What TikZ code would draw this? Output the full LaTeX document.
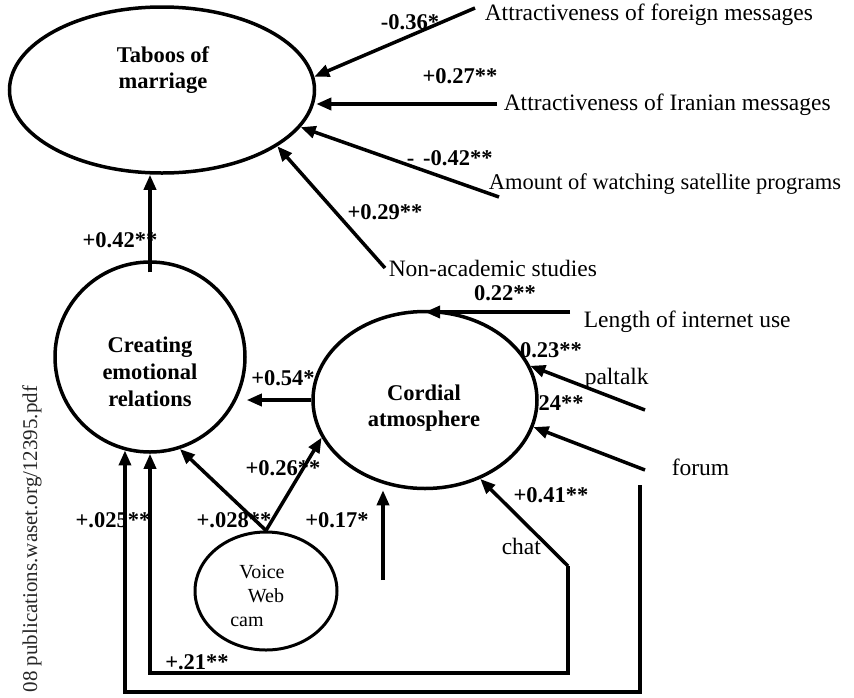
\documentclass[tikz,border=0pt]{standalone}
\usepackage{fontspec}
\setmainfont{Liberation Serif}
\usetikzlibrary{shapes.geometric,arrows.meta}

\begin{document}
\begin{tikzpicture}[>={Triangle[length=15pt,width=12pt]},x=1pt,y=-1pt,line width=3.5pt,
	lbl/.style={font=\fontsize{22.5}{26}\selectfont\bfseries,inner sep=0pt,align=center},
	src/.style={font=\fontsize{23.5}{26}\selectfont,inner sep=0pt,anchor=west},
	var/.style={draw,ellipse,inner sep=0pt}]
	\useasboundingbox (0,0) rectangle (854,697);
	% latent variables
	\node[var,minimum width=305pt,minimum height=166pt] (taboo) at (162,90) {};
	\node[lbl] (tabootxt) at (163,70) {Taboos of\\marriage};
	\node[var,minimum width=190pt,minimum height=190pt] (creating) at (150,357) {};
	\node[lbl] (creatingtxt) at (150,372) {Creating\\[1pt]emotional\\[1pt]relations};
	\node[var,minimum width=224pt,minimum height=177pt] (cordial) at (425,400) {};
	\node[lbl] (cordialtxt) at (424,408) {Cordial\\atmosphere};
	\node[var,minimum width=142pt,minimum height=118pt,line width=3pt] (voice) at (266,591) {};
	\node[font=\fontsize{20}{24}\selectfont,align=center,inner sep=0pt] (voicetxt) at (262,596) {Voice\\\hspace*{8pt}Web\\cam\hspace*{30pt}};
	% observed variables
	\node[src] (foreign) at (483,15) {Attractiveness of foreign messages};
	\node[src] (iranian) at (502,105) {Attractiveness of Iranian messages};
	\node[src,font=\fontsize{22.5}{26}\selectfont] (satellite) at (487,184) {Amount of watching satellite programs};
	\node[src] (nonacad) at (387,268) {Non-academic studies};
	\node[src] (length) at (582,322) {Length of internet use};
	\node[src] (paltalk) at (583,379) {paltalk};
	\node[src] (forum) at (670,467) {forum};
	\node[src] (chat) at (500,546) {chat};
	\node[rotate=90,anchor=west,font=\fontsize{21}{24}\selectfont,text=black!85,inner sep=0pt] (wm) at (32,694) {08 publications.waset.org/12395.pdf};
	% free ends
	\coordinate (fgn) at (475,8);
	\coordinate (irn) at (497,104);
	\coordinate (sat) at (499,197);
	\coordinate (nac) at (385,268);
	\coordinate (len) at (570,312);
	\coordinate (pal) at (645,410);
	\coordinate (frm) at (645,470);
	\coordinate (cht) at (568,566);
	\coordinate (frmlow) at (640,485);
	\coordinate (c17) at (383,580);
	% paths
	\draw[->] (fgn) -- (taboo.5);
	\draw[->] (irn) -- (irn -| taboo.east);
	\draw[->] (sat) -- (taboo.-15);
	\draw[->] (nac) -- (taboo.-26);
	\draw[->] ([yshift=-12pt]creating.north) -- (creating.north |- taboo.south);
	\draw[->] (len) -- (len -| cordial.north);
	\draw[->] (pal) -- (cordial.18);
	\draw[->] (frm) -- (cordial.-14);
	\draw[->] (cht) -- (cordial.-55);
	\draw[->] (c17) -- (c17 |- cordial.south);
	\draw[->] (cordial.west) -- (creating.east |- cordial.west);
	\draw[->] (voice.north) -- (creating.-72);
	\draw[->] (voice.north) -- (cordial.200);
	\draw[->] (cht) -- ++(0,107) -| (creating.south);
	\draw[->] (frmlow) -- ++(0,207) -| (creating.-105);
	% coefficients
	\node[lbl] (l036) at (410,22) {-0.36*};
	\node[lbl] (l027) at (460,76) {+0.27**};
	\node[lbl,anchor=west] (l042n) at (405,158) {-\hspace{9pt}-0.42**};
	\node[lbl] (l029) at (385,212) {+0.29**};
	\node[lbl] (l042) at (120,240) {+0.42**};
	\node[lbl] (l054) at (283,378) {+0.54*};
	\node[lbl] (l022) at (505,293) {0.22**};
	\node[lbl] (l023) at (551,350) {0.23**};
	\node[lbl] (l024) at (561,403) {24**};
	\node[lbl] (l041) at (551,495) {+0.41**};
	\node[lbl] (l026) at (283,468) {+0.26**};
	\node[lbl] (l025) at (113,520) {+.025**};
	\node[lbl] (l028) at (234,520) {+.028**};
	\node[lbl] (l017) at (337,520) {+0.17*};
	\node[lbl] (l021) at (197,662) {+.21**};
\end{tikzpicture}
\end{document}
